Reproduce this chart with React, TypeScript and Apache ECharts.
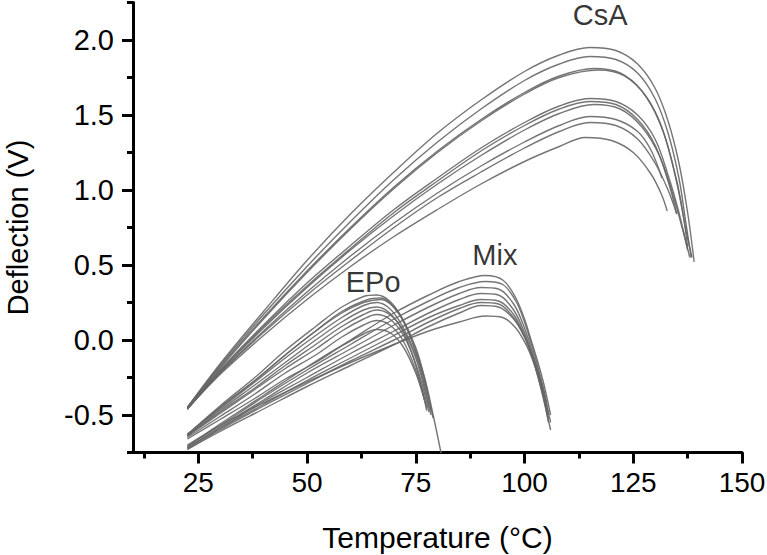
import React, { useEffect, useRef } from 'react';
import * as echarts from 'echarts';

const X_MAJOR = [25, 50, 75, 100, 125, 150];
const X_MINOR = [12.5, 37.5, 62.5, 87.5, 112.5, 137.5];
const Y_MAJOR = [-0.5, 0, 0.5, 1, 1.5, 2];
const Y_MINOR = [-0.75, -0.25, 0.25, 0.75, 1.25, 1.75, 2.25];

const X_NAME = 'Temperature (°C)';
const Y_NAME = 'Deflection (V)';

const GROUP_LABELS = [
  { name: 'CsA', value: [117.4, 2.17] },
  { name: 'EPo', value: [65.2, 0.39] },
  { name: 'Mix', value: [93.2, 0.57] },
];

const CSA = [
  [[22.5,-0.45],[30,-0.16],[40,0.19],[50,0.53],[60,0.84],[70,1.12],[80,1.38],[90,1.6],[100,1.79],[108,1.9],[115,1.95],[121,1.93],[126,1.84],[130,1.68],[133,1.46],[135.5,1.18],[137.5,0.85],[139,0.52]],
  [[22.5,-0.45],[30,-0.17],[40,0.17],[50,0.49],[60,0.79],[70,1.07],[80,1.32],[90,1.54],[100,1.73],[108,1.84],[115,1.89],[121,1.87],[126,1.78],[130,1.61],[133,1.38],[135.5,1.08],[137,0.8],[138.3,0.55]],
  [[22.5,-0.45],[30,-0.18],[40,0.15],[50,0.46],[60,0.75],[70,1.02],[80,1.26],[90,1.47],[100,1.65],[108,1.76],[116,1.81],[122,1.78],[127,1.66],[131,1.46],[134,1.18],[136,0.92],[137.5,0.62]],
  [[22.5,-0.46],[30,-0.19],[40,0.14],[50,0.45],[60,0.74],[70,1.01],[80,1.25],[90,1.46],[100,1.64],[108,1.75],[117,1.8],[123,1.76],[128,1.62],[132,1.38],[135,1.05],[137,0.75],[138.5,0.55]],
  [[22.5,-0.45],[30,-0.2],[40,0.1],[50,0.38],[60,0.63],[70,0.87],[80,1.08],[90,1.28],[100,1.45],[108,1.56],[115,1.61],[121,1.59],[126,1.5],[130,1.34],[133,1.1],[135.5,0.85],[137.5,0.6]],
  [[22.5,-0.46],[30,-0.21],[40,0.09],[50,0.36],[60,0.61],[70,0.85],[80,1.06],[90,1.26],[100,1.43],[108,1.54],[115,1.59],[121,1.57],[126,1.47],[130,1.3],[133,1.06],[135,0.84]],
  [[22.5,-0.45],[30,-0.21],[40,0.08],[50,0.35],[60,0.6],[70,0.83],[80,1.04],[90,1.23],[100,1.4],[108,1.51],[116,1.57],[122,1.54],[127,1.42],[131,1.23],[134,0.98],[136.5,0.72],[138,0.55]],
  [[22.5,-0.46],[30,-0.22],[40,0.06],[50,0.32],[60,0.56],[70,0.78],[80,0.98],[90,1.16],[100,1.32],[108,1.43],[115,1.49],[121,1.47],[126,1.39],[129,1.27],[131.6,1.08]],
  [[22.5,-0.46],[30,-0.22],[40,0.05],[50,0.3],[60,0.53],[70,0.75],[80,0.95],[90,1.12],[100,1.28],[108,1.39],[115,1.45],[121,1.43],[126,1.34],[130,1.18],[133,1.0],[135,0.84]],
  [[22.5,-0.46],[30,-0.23],[40,0.03],[50,0.27],[60,0.49],[70,0.69],[80,0.87],[90,1.04],[100,1.19],[108,1.29],[114,1.35],[120,1.33],[125,1.25],[129,1.11],[131.5,0.97],[132.8,0.86]],
];

const EPO = [
  [[22.5,-0.63],[30,-0.44],[38,-0.25],[45,-0.07],[52,0.09],[58,0.22],[63,0.29],[66,0.3],[69,0.26],[72,0.14],[75,-0.05],[77,-0.25],[78.5,-0.47]],
  [[22.5,-0.63],[30,-0.45],[38,-0.27],[45,-0.1],[52,0.06],[58,0.19],[64,0.27],[67,0.28],[70,0.22],[73,0.08],[75.5,-0.12],[77.5,-0.33],[79,-0.52]],
  [[22.5,-0.63],[30,-0.46],[38,-0.28],[45,-0.12],[52,0.03],[58,0.15],[63,0.23],[66,0.25],[69,0.21],[72,0.09],[75,-0.1],[77,-0.3],[78,-0.45]],
  [[22.5,-0.64],[30,-0.47],[38,-0.3],[45,-0.15],[52,0.0],[58,0.12],[63,0.2],[66,0.22],[69,0.18],[72,0.06],[74.5,-0.12],[76.5,-0.33],[77.5,-0.47]],
  [[22.5,-0.64],[30,-0.48],[38,-0.32],[45,-0.17],[52,-0.03],[58,0.09],[63,0.17],[66,0.2],[69,0.17],[72,0.07],[75,-0.12],[77.5,-0.38],[78.5,-0.5]],
  [[22.5,-0.64],[30,-0.49],[38,-0.33],[45,-0.19],[52,-0.06],[58,0.06],[63,0.14],[66,0.17],[69,0.14],[72,0.04],[74.5,-0.12],[76.5,-0.3],[78,-0.48]],
  [[22.5,-0.65],[30,-0.51],[38,-0.36],[45,-0.22],[52,-0.1],[58,0.02],[63,0.1],[66,0.13],[69,0.1],[72,0.0],[75,-0.2],[77,-0.4]],
  [[22.5,-0.66],[30,-0.53],[38,-0.39],[45,-0.26],[52,-0.15],[58,-0.04],[63,0.04],[66,0.07],[69,0.05],[72,-0.04],[75,-0.22],[77.5,-0.45]],
  [[22.5,-0.63],[30,-0.45],[38,-0.27],[45,-0.1],[52,0.06],[58,0.18],[63,0.25],[67,0.27],[71,0.18],[74,0.0],[77,-0.25],[79,-0.5],[81,-0.78]],
];

const MIX = [
  [[22.5,-0.71],[30,-0.56],[40,-0.37],[50,-0.18],[60,0.0],[70,0.18],[78,0.3],[85,0.39],[91,0.43],[95,0.4],[98,0.28],[100,0.14],[101.5,0.0],[103,-0.14],[104.5,-0.3],[106,-0.5]],
  [[22.5,-0.71],[30,-0.57],[40,-0.38],[50,-0.2],[60,-0.03],[70,0.14],[78,0.26],[85,0.35],[91,0.39],[95,0.37],[98,0.26],[100,0.12],[101.5,-0.02],[103,-0.17],[104.5,-0.34],[105.5,-0.5]],
  [[22.5,-0.72],[30,-0.58],[40,-0.4],[50,-0.22],[60,-0.06],[70,0.1],[78,0.22],[85,0.31],[90,0.35],[94,0.34],[97.5,0.24],[100,0.08],[102,-0.1],[103.5,-0.25],[105,-0.45]],
  [[22.5,-0.72],[30,-0.59],[40,-0.41],[50,-0.25],[60,-0.09],[70,0.06],[78,0.18],[85,0.27],[90,0.31],[94,0.3],[97.5,0.2],[100,0.05],[102,-0.12],[104,-0.33],[105.5,-0.55]],
  [[22.5,-0.72],[30,-0.59],[40,-0.43],[50,-0.27],[60,-0.12],[70,0.03],[78,0.15],[85,0.23],[90,0.27],[94,0.26],[97.5,0.17],[100,0.03],[102,-0.13],[104,-0.35],[106,-0.6]],
  [[22.5,-0.73],[30,-0.6],[40,-0.44],[50,-0.29],[60,-0.14],[70,0.0],[78,0.12],[85,0.21],[90,0.25],[94,0.24],[97.5,0.15],[100,0.02],[102,-0.14],[104,-0.34],[105.5,-0.52]],
  [[22.5,-0.73],[30,-0.61],[40,-0.46],[50,-0.31],[60,-0.17],[70,-0.03],[78,0.09],[85,0.18],[90,0.23],[94,0.22],[97.5,0.14],[100,0.02],[102,-0.12],[104,-0.3],[105,-0.42]],
  [[22.5,-0.7],[30,-0.57],[40,-0.42],[50,-0.28],[60,-0.15],[70,-0.03],[78,0.06],[85,0.12],[91,0.16],[95,0.15],[98,0.08],[100.5,-0.04],[102.5,-0.18],[104.5,-0.36],[106,-0.55]],
];

const FONT = '"Liberation Sans", Arial, Helvetica, sans-serif';

export default function App() {
  const ref = useRef<HTMLDivElement>(null);

  useEffect(() => {
    if (!ref.current) return;
    const chart = echarts.init(ref.current, undefined, { renderer: 'svg' });

    const curves = [...CSA, ...EPO, ...MIX];
    const lineSeries = curves.map((data) => ({
      type: 'line',
      xAxisIndex: 0,
      yAxisIndex: 0,
      data,
      smooth: 0.35,
      showSymbol: false,
      symbol: 'none',
      silent: true,
      clip: true,
      lineStyle: { color: '#666', width: 1.4, opacity: 0.9 },
    }));

    const axisLineStyle = { color: '#000', width: 3 };
    const tickStyle = { color: '#000', width: 3 };

    chart.setOption({
      animation: false,
      backgroundColor: '#fff',
      grid: {
        left: 133,
        right: 25,
        top: 2.5,
        bottom: 102.5,
        containLabel: false,
        outerBoundsMode: 'none',
      },
      xAxis: [
        {
          type: 'value',
          min: 10,
          max: 150,
          position: 'bottom',
          axisLine: { show: true, onZero: false, lineStyle: axisLineStyle },
          axisTick: { show: true, customValues: X_MAJOR, length: 11, inside: false, lineStyle: tickStyle },
          axisLabel: { show: true, customValues: X_MAJOR, fontSize: 28, color: '#000', fontFamily: FONT, margin: 16 },
          splitLine: { show: false },
          name: X_NAME,
          nameLocation: 'middle',
          nameGap: 70,
          nameTextStyle: { fontSize: 30, color: '#000', fontFamily: FONT },
        },
        {
          type: 'value',
          min: 10,
          max: 150,
          position: 'bottom',
          axisLine: { show: false, onZero: false },
          axisTick: { show: true, customValues: X_MINOR, length: 6, inside: false, lineStyle: tickStyle },
          axisLabel: { show: false },
          splitLine: { show: false },
        },
      ],
      yAxis: [
        {
          type: 'value',
          min: -0.75,
          max: 2.25,
          position: 'left',
          axisLine: { show: true, onZero: false, lineStyle: axisLineStyle },
          axisTick: { show: true, customValues: Y_MAJOR, length: 11, inside: false, lineStyle: tickStyle },
          axisLabel: {
            show: true,
            customValues: Y_MAJOR,
            fontSize: 29,
            color: '#000',
            fontFamily: FONT,
            margin: 19,
            formatter: (v: number) => v.toFixed(1),
          },
          splitLine: { show: false },
          name: Y_NAME,
          nameLocation: 'middle',
          nameGap: 101,
          nameRotate: 90,
          nameTextStyle: { fontSize: 29, color: '#000', fontFamily: FONT },
        },
        {
          type: 'value',
          min: -0.75,
          max: 2.25,
          position: 'left',
          axisLine: { show: false, onZero: false },
          axisTick: { show: true, customValues: Y_MINOR, length: 6, inside: false, lineStyle: tickStyle },
          axisLabel: { show: false },
          splitLine: { show: false },
        },
      ],
      series: [
        ...lineSeries,
        {
          type: 'scatter',
          xAxisIndex: 0,
          yAxisIndex: 0,
          data: GROUP_LABELS,
          symbolSize: 1,
          silent: true,
          itemStyle: { color: 'rgba(255,255,255,0)' },
          label: {
            show: true,
            position: 'inside',
            formatter: (p: any) => p.name,
            fontSize: 29,
            color: '#000',
            fontFamily: FONT,
          },
        },
      ],
    });

    return () => chart.dispose();
  }, []);

  return (
    <div
      ref={ref}
      style={{ position: 'fixed', left: 0, top: 0, width: 767, height: 555, background: '#fff' }}
    />
  );
}
